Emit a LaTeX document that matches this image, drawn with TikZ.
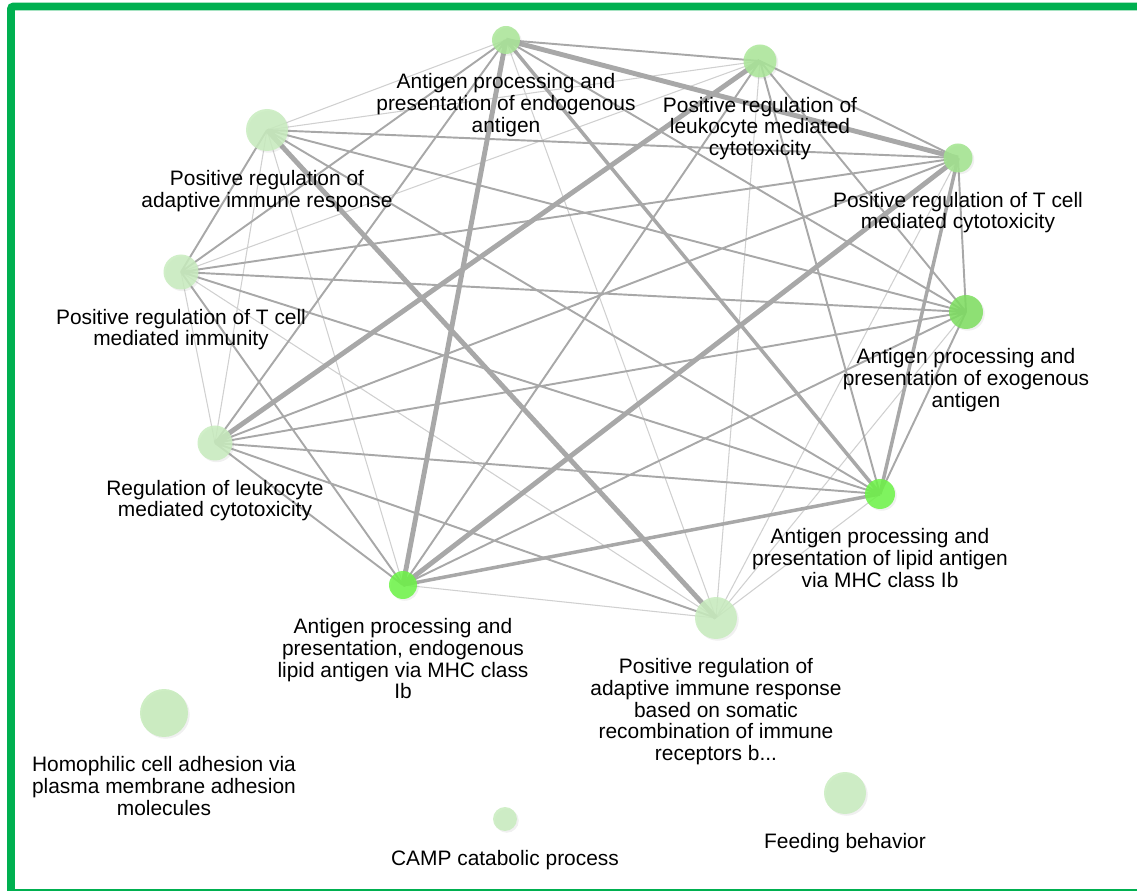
\documentclass[tikz,border=0pt]{standalone}
\usepackage{fontspec}
\setmainfont{Liberation Sans}
\usetikzlibrary{positioning,shadows,backgrounds}

\definecolor{frameGreen}{RGB}{0,176,80}
\definecolor{paleGreen}{RGB}{200,236,190}
\definecolor{softGreen}{RGB}{170,230,152}
\definecolor{midGreen}{RGB}{125,222,95}
\definecolor{limeGreen}{RGB}{108,244,70}
\definecolor{edgeGray}{RGB}{168,168,168}
\definecolor{edgeLight}{RGB}{208,208,208}

\begin{document}
\begin{tikzpicture}[
  x=0.02cm, y=-0.02cm,
  font=\fontsize{11.9}{12.3}\selectfont,
  node distance=0.38cm,
  term/.style={circle, inner sep=0pt, fill opacity=0.85, drop shadow={shadow xshift=1pt, shadow yshift=-1pt, opacity=0.12}},
  lbl/.style={align=center, inner sep=0pt},
  thinE/.style={edgeLight, line width=0.6pt},
  midE/.style={edgeGray, line width=1.1pt},
  thickE/.style={edgeGray, line width=2pt},
  heavyE/.style={edgeGray, line width=2.8pt},
  frame/.style={draw=frameGreen, line width=4.5pt, rounded corners=1.5pt}
]
\useasboundingbox (0,0) rectangle (1137,891);
\clip (0,0) rectangle (1137,891);

% Terms of the network (pixel grid)
\node[term, fill=softGreen, minimum size=0.56cm] (A) at (506,40) {};
\node[term, fill=softGreen, minimum size=0.66cm] (B) at (760,61) {};
\node[term, fill=softGreen!80!midGreen, minimum size=0.58cm] (C) at (958,158) {};
\node[term, fill=midGreen, minimum size=0.68cm] (D) at (966,312) {};
\node[term, fill=limeGreen, minimum size=0.60cm] (E) at (880,494) {};
\node[term, fill=paleGreen, minimum size=0.84cm] (F) at (716,618) {};
\node[term, fill=limeGreen, minimum size=0.56cm] (G) at (403,585) {};
\node[term, fill=paleGreen, minimum size=0.70cm] (H) at (215,443) {};
\node[term, fill=paleGreen, minimum size=0.70cm] (I) at (181,272) {};
\node[term, fill=paleGreen, minimum size=0.84cm] (J) at (267,130) {};

% Terms without links
\node[term, fill=paleGreen!90!softGreen, minimum size=0.96cm] (K) at (164,713) {};
\node[term, fill=paleGreen, minimum size=0.48cm] (L) at (505,819) {};
\node[term, fill=paleGreen, minimum size=0.84cm] (M) at (845,793) {};

% Labels
\node[lbl, below=of A] (Atxt) {Antigen processing and\\presentation of endogenous\\antigen};
\node[lbl, below=of B] (Btxt) {Positive regulation of\\leukocyte mediated\\cytotoxicity};
\node[lbl, below=of C] (Ctxt) {Positive regulation of T cell\\mediated cytotoxicity};
\node[lbl, below=of D] (Dtxt) {Antigen processing and\\presentation of exogenous\\antigen};
\node[lbl, below=of E] (Etxt) {Antigen processing and\\presentation of lipid antigen\\via MHC class Ib};
\node[lbl, below=of F] (Ftxt) {Positive regulation of\\adaptive immune response\\based on somatic\\recombination of immune\\receptors b...};
\node[lbl, below=of G] (Gtxt) {Antigen processing and\\presentation, endogenous\\lipid antigen via MHC class\\Ib};
\node[lbl, below=of H] (Htxt) {Regulation of leukocyte\\mediated cytotoxicity};
\node[lbl, below=of I] (Itxt) {Positive regulation of T cell\\mediated immunity};
\node[lbl, below=of J] (Jtxt) {Positive regulation of\\adaptive immune response};
\node[lbl, below=of K] (Ktxt) {Homophilic cell adhesion via\\plasma membrane adhesion\\molecules};
\node[lbl, below=of L] (Ltxt) {CAMP catabolic process};
\node[lbl, below=of M] (Mtxt) {Feeding behavior};

% Links, behind the terms
\begin{scope}[on background layer]
\draw[thinE] (A.center) -- (F.center) (A.center) -- (J.center)
  (B.center) -- (F.center) (B.center) -- (I.center) (B.center) -- (J.center)
  (C.center) -- (F.center) (D.center) -- (F.center) (E.center) -- (F.center)
  (F.center) -- (G.center) (F.center) -- (I.center) (G.center) -- (J.center)
  (H.center) -- (I.center) (H.center) -- (J.center);
\draw[midE] (A.center) -- (B.center) (A.center) -- (D.center)
  (A.center) -- (H.center) (A.center) -- (I.center)
  (B.center) -- (C.center) (B.center) -- (D.center)
  (B.center) -- (E.center) (B.center) -- (G.center)
  (C.center) -- (D.center) (C.center) -- (H.center)
  (C.center) -- (I.center) (C.center) -- (J.center)
  (D.center) -- (E.center) (D.center) -- (G.center)
  (D.center) -- (H.center) (D.center) -- (I.center) (D.center) -- (J.center)
  (E.center) -- (H.center) (E.center) -- (I.center) (E.center) -- (J.center)
  (F.center) -- (H.center) (G.center) -- (H.center)
  (G.center) -- (I.center) (I.center) -- (J.center);
\draw[thickE] (A.center) -- (E.center) (C.center) -- (E.center)
  (E.center) -- (G.center);
\draw[heavyE] (A.center) -- (C.center) (A.center) -- (G.center)
  (B.center) -- (H.center) (C.center) -- (G.center)
  (F.center) -- (J.center);
\end{scope}

% Frame
\draw[frame] (11,6.5) rectangle (1145,893);
\end{tikzpicture}
\end{document}
